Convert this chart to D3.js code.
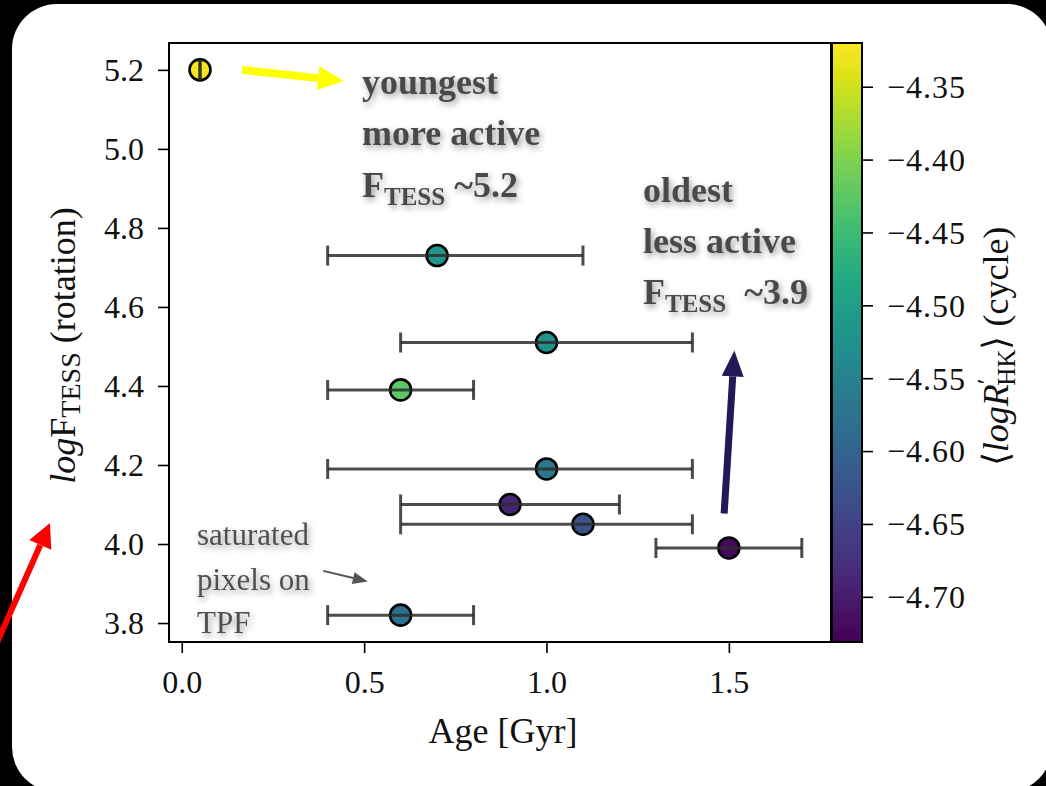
<!DOCTYPE html>
<html>
<head>
<meta charset="utf-8">
<script src="https://cdn.jsdelivr.net/npm/d3@7"></script>
<style>
  html, body { margin: 0; padding: 0; background: #000; }
  svg { display: block; }
</style>
</head>
<body>
<svg id="fig" width="1046" height="786"></svg>
<script>
// Stellar sample: age (Gyr) with uncertainty, TESS flux index, mean chromospheric activity
const age      = [0.05, 0.70, 1.00, 0.60, 1.00, 0.90, 1.10, 1.50, 0.60];
const ageLow   = [0.05, 0.40, 0.60, 0.40, 0.40, 0.60, 0.60, 1.30, 0.40];
const ageHigh  = [0.05, 1.10, 1.40, 0.80, 1.40, 1.20, 1.40, 1.70, 0.80];
const logFtess = [5.20, 4.73, 4.51, 4.39, 4.19, 4.10, 4.05, 3.99, 3.82];
const logRhk   = [-4.325, -4.512, -4.525, -4.425, -4.568, -4.690, -4.628, -4.722, -4.580];

const xTicks  = [0.0, 0.5, 1.0, 1.5];
const yTicks  = [3.8, 4.0, 4.2, 4.4, 4.6, 4.8, 5.0, 5.2];
const cbTicks = [-4.70, -4.65, -4.60, -4.55, -4.50, -4.45, -4.40, -4.35];

const svg = d3.select("#fig");
const serif = "'Liberation Serif', 'Times New Roman', serif";
const minus = s => s.replace("-", "\u2212");

// rounded white card on the black page
svg.append("rect").attr("x", 0).attr("y", 0).attr("width", 1046).attr("height", 786).attr("fill", "#000");
svg.append("rect").attr("x", 12).attr("y", 4).attr("width", 1040).attr("height", 788)
  .attr("rx", 45).attr("ry", 45).attr("fill", "#fff");

// soft shadow used by the annotation texts
const defs = svg.append("defs");
const f = defs.append("filter").attr("id", "shadow").attr("x", "-10%").attr("y", "-20%")
  .attr("width", "130%").attr("height", "150%");
f.append("feDropShadow").attr("dx", 2).attr("dy", 3).attr("stdDeviation", 3)
  .attr("flood-color", "#000").attr("flood-opacity", 0.4);

const L = 169, R = 831, T = 43, B = 642;
const x = d3.scaleLinear().domain([-0.035, 1.78]).range([L, R]);
const y = d3.scaleLinear().domain([3.752, 5.268]).range([B, T]);
const cDomain = [-4.731, -4.320];
const color = d3.scaleSequential(d3.interpolateViridis).domain(cDomain);
const cy = d3.scaleLinear().domain(cDomain).range([B, T]);

// axes
const gx = svg.append("g").attr("transform", `translate(0,${B})`)
  .call(d3.axisBottom(x).tickValues(xTicks).tickFormat(d3.format(".1f")).tickSize(11).tickPadding(10));
const gy = svg.append("g").attr("transform", `translate(${L},0)`)
  .call(d3.axisLeft(y).tickValues(yTicks).tickFormat(d3.format(".1f")).tickSize(11).tickPadding(14));
[gx, gy].forEach(g => {
  g.select(".domain").remove();
  g.selectAll(".tick line").attr("stroke", "#000").attr("stroke-width", 1.6);
  g.selectAll(".tick text").attr("font-family", serif).attr("font-size", 32).attr("fill", "#111");
});
gx.selectAll(".tick text").attr("dy", "0.93em");
gy.selectAll(".tick text").attr("dy", "0.34em");

// markers, then error bars on top
const plot = svg.append("g");
const idx = d3.range(age.length);
plot.selectAll("circle.pt").data(idx).join("circle").attr("class", "pt")
  .attr("cx", i => x(age[i])).attr("cy", i => y(logFtess[i])).attr("r", 10.5)
  .attr("fill", i => color(logRhk[i])).attr("stroke", "#000").attr("stroke-width", 2.6);

const eb = plot.append("g").attr("stroke", "rgba(45,45,45,0.85)").attr("stroke-width", 3);
eb.selectAll("line.bar").data(idx).join("line").attr("class", "bar")
  .attr("x1", i => x(ageLow[i])).attr("x2", i => x(ageHigh[i]))
  .attr("y1", i => y(logFtess[i])).attr("y2", i => y(logFtess[i]));
eb.selectAll("line.capl").data(idx).join("line").attr("class", "capl")
  .attr("x1", i => x(ageLow[i])).attr("x2", i => x(ageLow[i]))
  .attr("y1", i => y(logFtess[i]) - 10).attr("y2", i => y(logFtess[i]) + 10);
eb.selectAll("line.caph").data(idx).join("line").attr("class", "caph")
  .attr("x1", i => x(ageHigh[i])).attr("x2", i => x(ageHigh[i]))
  .attr("y1", i => y(logFtess[i]) - 10).attr("y2", i => y(logFtess[i]) + 10);

// plot frame
svg.append("rect").attr("x", L).attr("y", T).attr("width", R - L).attr("height", B - T)
  .attr("fill", "none").attr("stroke", "#000").attr("stroke-width", 2);

// colour bar
const grad = defs.append("linearGradient").attr("id", "viridis")
  .attr("x1", 0).attr("y1", 1).attr("x2", 0).attr("y2", 0);
d3.range(0, 1.0001, 0.05).forEach(t => grad.append("stop")
  .attr("offset", t).attr("stop-color", d3.interpolateViridis(t)));
const CBL = 832, CBR = 862;
svg.append("rect").attr("x", CBL).attr("y", T).attr("width", CBR - CBL).attr("height", B - T)
  .attr("fill", "url(#viridis)").attr("stroke", "#000").attr("stroke-width", 2);
const gc = svg.append("g").attr("transform", `translate(${CBR},0)`)
  .call(d3.axisRight(cy).tickValues(cbTicks).tickFormat(d => minus(d3.format(".2f")(d))).tickSize(11).tickPadding(14));
gc.select(".domain").remove();
gc.selectAll(".tick line").attr("stroke", "#000").attr("stroke-width", 1.6);
gc.selectAll(".tick text").attr("font-family", serif).attr("font-size", 32).attr("fill", "#111")
  .attr("dy", "0.34em").attr("letter-spacing", 1);

// axis titles
svg.append("text").attr("x", (L + R) / 2 + 3).attr("y", 743).attr("text-anchor", "middle")
  .attr("font-family", serif).attr("font-size", 36).attr("fill", "#111").text("Age [Gyr]");

const yl = svg.append("text").attr("transform", `translate(75,${(T + B) / 2 + 3}) rotate(-90)`)
  .attr("text-anchor", "middle").attr("font-family", serif).attr("font-size", 36).attr("fill", "#111");
yl.append("tspan").attr("font-style", "italic").text("log");
yl.append("tspan").text("F");
yl.append("tspan").attr("font-size", 28).attr("dy", 5).text("TESS");
yl.append("tspan").attr("dy", -5).text("\u00A0(rotation)");

const cl = svg.append("text").attr("transform", `translate(1008,${(T + B) / 2 + 4}) rotate(-90)`)
  .attr("text-anchor", "middle").attr("font-family", serif).attr("font-size", 36).attr("fill", "#111");
cl.append("tspan").text("\u27E8");
cl.append("tspan").attr("font-style", "italic").text("logR");
cl.append("tspan").attr("font-size", 26).attr("dy", -13).text("\u2032");
cl.append("tspan").attr("font-size", 25).attr("dx", -7).attr("dy", 20).text("HK");
cl.append("tspan").attr("dy", -7).text("\u27E9\u00A0(cycle)");

// annotation arrows
function arrow(x1, y1, x2, y2, fill, w, headLen, headHalf) {
  const a = Math.atan2(y2 - y1, x2 - x1);
  const bx = x2 - headLen * Math.cos(a), by = y2 - headLen * Math.sin(a);
  const nx = -Math.sin(a), ny = Math.cos(a);
  svg.append("line").attr("x1", x1).attr("y1", y1).attr("x2", bx).attr("y2", by)
    .attr("stroke", fill).attr("stroke-width", w);
  svg.append("path").attr("fill", fill)
    .attr("d", `M${x2},${y2}L${bx + nx * headHalf},${by + ny * headHalf}L${bx - nx * headHalf},${by - ny * headHalf}Z`);
}
arrow(x(0.165), y(5.2), x(0.445), y(5.172), "#ffff00", 8, 26, 12);
arrow(x(1.487), y(4.077), x(1.515), y(4.49), "#221a57", 7, 26, 11);
arrow(-4, 645, 50, 523, "#ff0000", 6, 24, 12);
arrow(x(0.388), y(3.932), x(0.51), y(3.905), "#555", 2, 15, 6);

// annotation texts
function block(x0, lines, opts) {
  const g = svg.append("g").attr("filter", "url(#shadow)");
  lines.forEach(l => {
    const t = g.append("text").attr("x", x0).attr("y", l.y).attr("font-family", serif)
      .attr("font-size", opts.size).attr("font-weight", opts.weight).attr("fill", opts.fill);
    l.parts.forEach(p => {
      const s = t.append("tspan").text(p.t);
      if (p.size) s.attr("font-size", p.size);
      if (p.dy) s.attr("dy", p.dy);
    });
  });
}
const bold = { size: 36, weight: "bold", fill: "#4a4a4a" };
block(362, [
  { y: 94, parts: [{ t: "youngest" }] },
  { y: 145, parts: [{ t: "more active" }] },
  { y: 197, parts: [{ t: "F" }, { t: "TESS", size: 25, dy: 8 }, { t: "\u00A0~5.2", dy: -8 }] }
], bold);
block(643, [
  { y: 202, parts: [{ t: "oldest" }] },
  { y: 253, parts: [{ t: "less active" }] },
  { y: 304, parts: [{ t: "F" }, { t: "TESS", size: 25, dy: 8 }, { t: "\u00A0\u00A0~3.9", dy: -8 }] }
], bold);
block(197, [
  { y: 545, parts: [{ t: "saturated" }] },
  { y: 590, parts: [{ t: "pixels on" }] },
  { y: 633, parts: [{ t: "TPF" }] }
], { size: 31, weight: "normal", fill: "#505050" });
</script>
</body>
</html>
